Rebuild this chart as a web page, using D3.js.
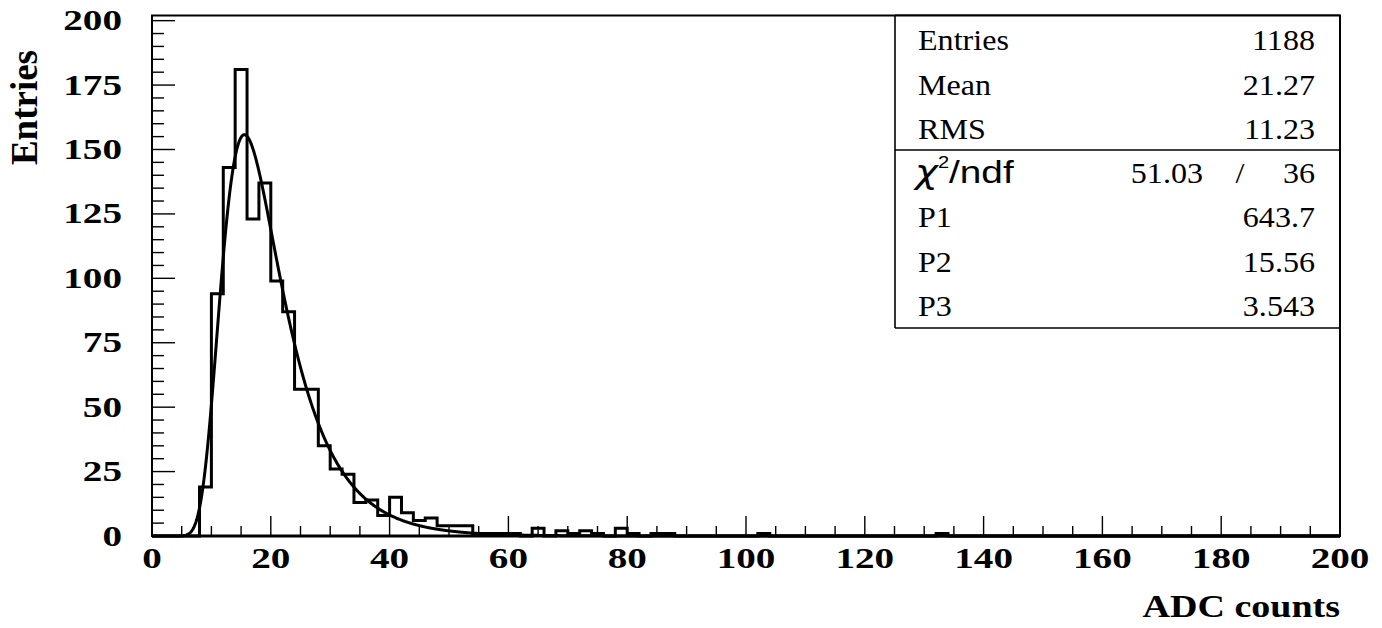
<!DOCTYPE html>
<html>
<head>
<meta charset="utf-8">
<script src="https://cdn.jsdelivr.net/npm/d3@7"></script>
<style>
  html, body { margin: 0; padding: 0; background: #fff; }
  svg { display: block; }
  .serif { font-family: "Liberation Serif", "Times New Roman", Times, "Nimbus Roman", serif; }
  .sans { font-family: "Liberation Sans", Arial, Helvetica, sans-serif; }
</style>
</head>
<body>
<svg id="chart" width="1382" height="628"></svg>
<script>
// ---------------- data ----------------
const binWidth = 2;           // ADC counts per bin
const xDomain = [0, 200];
const yDomain = [0, 202];
// counts per bin, bins [0,2), [2,4), ... [198,200)
const counts = [
  0, 0, 0, 0, 19, 94, 143, 181, 123, 137,
  99, 87, 57, 57, 35, 26, 24, 13, 14, 8,
  15, 9, 6, 7, 4, 4, 4, 1, 1, 1,
  1, 0, 3, 0, 2, 1, 2, 1, 0, 3,
  1, 0, 1, 1, 0, 0, 0, 0, 0, 0,
  0, 1, 0, 0, 0, 0, 0, 0, 0, 0,
  0, 0, 0, 0, 0, 0, 1, 0, 0, 0,
  0, 0, 0, 0, 0, 0, 0, 0, 0, 0,
  0, 0, 0, 0, 0, 0, 0, 0, 0, 0,
  0, 0, 0, 0, 0, 0, 0, 0, 0, 0
];
const xMajorTicks = [0, 20, 40, 60, 80, 100, 120, 140, 160, 180, 200];
const yMajorTicks = [0, 25, 50, 75, 100, 125, 150, 175, 200];
// fit parameters (P1, P2, P3) from the stats box
const fitParams = [643.7, 15.56, 3.543];
const statsTop = [["Entries", "1188"], ["Mean", "21.27"], ["RMS", "11.23"]];
const chiValue = "51.03";
const ndfValue = "36";
const statsBottom = [["P1", "643.7"], ["P2", "15.56"], ["P3", "3.543"]];
const xTitle = "ADC counts";
const yTitle = "Entries";

// ---------------- drawing ----------------
const svg = d3.select("#chart");
const L = 152, R = 1340, T = 15.5, B = 536;
const x = d3.scaleLinear().domain(xDomain).range([L, R]);
const y = d3.scaleLinear().domain(yDomain).range([B, T]);

svg.append("rect").attr("width", 1382).attr("height", 628).attr("fill", "#fff");

// histogram outline
const pts = [[xDomain[0], 0]];
counts.forEach((c, i) => { pts.push([i * binWidth, c]); pts.push([(i + 1) * binWidth, c]); });
pts.push([xDomain[1], 0]);
svg.append("path")
  .attr("d", d3.line().x(d => x(d[0])).y(d => y(d[1]))(pts))
  .attr("fill", "none").attr("stroke", "#000").attr("stroke-width", 3)
  .attr("stroke-linejoin", "miter");

// fit curve (Moyal approximation of Landau, with fitted P1,P2,P3)
const [P1, P2, P3] = fitParams;
const fitFn = v => { const l = (v - P2) / P3; return P1 / Math.sqrt(2 * Math.PI) * Math.exp(-0.5 * (l + Math.exp(-l))); };
const curveX = d3.range(0, 200.001, 0.1);
svg.append("path")
  .attr("d", d3.line().x(d => x(d)).y(d => y(fitFn(d)))(curveX))
  .attr("fill", "none").attr("stroke", "#000").attr("stroke-width", 3);

// ticks (inside)
const tickG = svg.append("g").attr("stroke", "#000").attr("stroke-width", 1.4);
const xMinor = d3.range(0, 201, 5).filter(v => v % 20 !== 0);
const yMinor = d3.range(0, 201, 5).filter(v => v % 25 !== 0);
xMajorTicks.forEach(v => tickG.append("line").attr("x1", x(v)).attr("x2", x(v)).attr("y1", B).attr("y2", B - 20));
xMinor.forEach(v => tickG.append("line").attr("x1", x(v)).attr("x2", x(v)).attr("y1", B).attr("y2", B - 10));
yMajorTicks.forEach(v => tickG.append("line").attr("x1", L).attr("x2", L + 23).attr("y1", y(v)).attr("y2", y(v)));
yMinor.forEach(v => tickG.append("line").attr("x1", L).attr("x2", L + 12).attr("y1", y(v)).attr("y2", y(v)));

// frame
svg.append("rect").attr("x", L).attr("y", T).attr("width", R - L).attr("height", B - T)
  .attr("fill", "none").attr("stroke", "#000").attr("stroke-width", 2);
svg.append("line").attr("x1", L).attr("x2", R).attr("y1", B).attr("y2", B)
  .attr("stroke", "#000").attr("stroke-width", 3);

// tick labels
xMajorTicks.forEach(v => {
  svg.append("text").attr("class", "serif").attr("transform", `translate(${x(v)},568) scale(1.35,1)`)
    .attr("text-anchor", "middle").attr("font-weight", "bold")
    .attr("font-size", 29).text(v);
});
yMajorTicks.forEach(v => {
  svg.append("text").attr("class", "serif").attr("transform", `translate(122,${y(v) + 9.5}) scale(1.35,1)`)
    .attr("text-anchor", "end").attr("font-weight", "bold")
    .attr("font-size", 29).text(v);
});

// axis titles
svg.append("text").attr("class", "serif").attr("transform", "translate(1340,617) scale(1.17,1)")
  .attr("text-anchor", "end").attr("font-weight", "bold")
  .attr("font-size", 32.5).text(xTitle);
svg.append("text").attr("class", "serif").attr("transform", "translate(37,50) rotate(-90)")
  .attr("text-anchor", "end").attr("font-weight", "bold")
  .attr("font-size", 37).text(yTitle);

// stats box
const bx = 895, bTop = T, bDiv = 150, bBot = 328;
svg.append("rect").attr("x", bx).attr("y", bTop).attr("width", R - bx).attr("height", bBot - bTop)
  .attr("fill", "#fff").attr("stroke", "none");
const sb = svg.append("g").attr("stroke", "#000").attr("stroke-width", 1.6);
sb.append("line").attr("x1", bx).attr("x2", bx).attr("y1", bTop).attr("y2", bBot);
sb.append("line").attr("x1", bx).attr("x2", R).attr("y1", bBot).attr("y2", bBot);
sb.append("line").attr("x1", bx).attr("x2", R).attr("y1", bDiv).attr("y2", bDiv);
svg.append("line").attr("x1", bx).attr("x2", R).attr("y1", T).attr("y2", T).attr("stroke", "#000").attr("stroke-width", 2);
svg.append("line").attr("x1", R).attr("x2", R).attr("y1", T).attr("y2", B).attr("stroke", "#000").attr("stroke-width", 2);

const statText = (tx, ty, s, anchor) =>
  svg.append("text").attr("class", "serif").attr("transform", `translate(${tx},${ty}) scale(1.07,1)`)
    .attr("text-anchor", anchor).attr("font-size", 30).text(s);
const topRows = [50, 94.5, 138.5];
statsTop.forEach((r, i) => { statText(918, topRows[i], r[0], "start"); statText(1315, topRows[i], r[1], "end"); });
const botRows = [227, 271.5, 315.5];
statsBottom.forEach((r, i) => { statText(918, botRows[i], r[0], "start"); statText(1315, botRows[i], r[1], "end"); });
// chi2/ndf row
const chiY = 182.5;
const chi = svg.append("text").attr("class", "sans").attr("transform", `translate(915,${chiY}) scale(1.25,1)`)
  .attr("font-size", 31);
chi.append("tspan").attr("font-style", "italic").attr("font-family", "'DejaVu Sans', sans-serif").text("χ");
chi.append("tspan").attr("font-size", 16).attr("dy", -15).text("2");
chi.append("tspan").attr("dy", 15).text("/ndf");
statText(1203, chiY, chiValue, "end");
statText(1240, chiY, "/", "middle");
statText(1315, chiY, ndfValue, "end");
</script>
</body>
</html>
